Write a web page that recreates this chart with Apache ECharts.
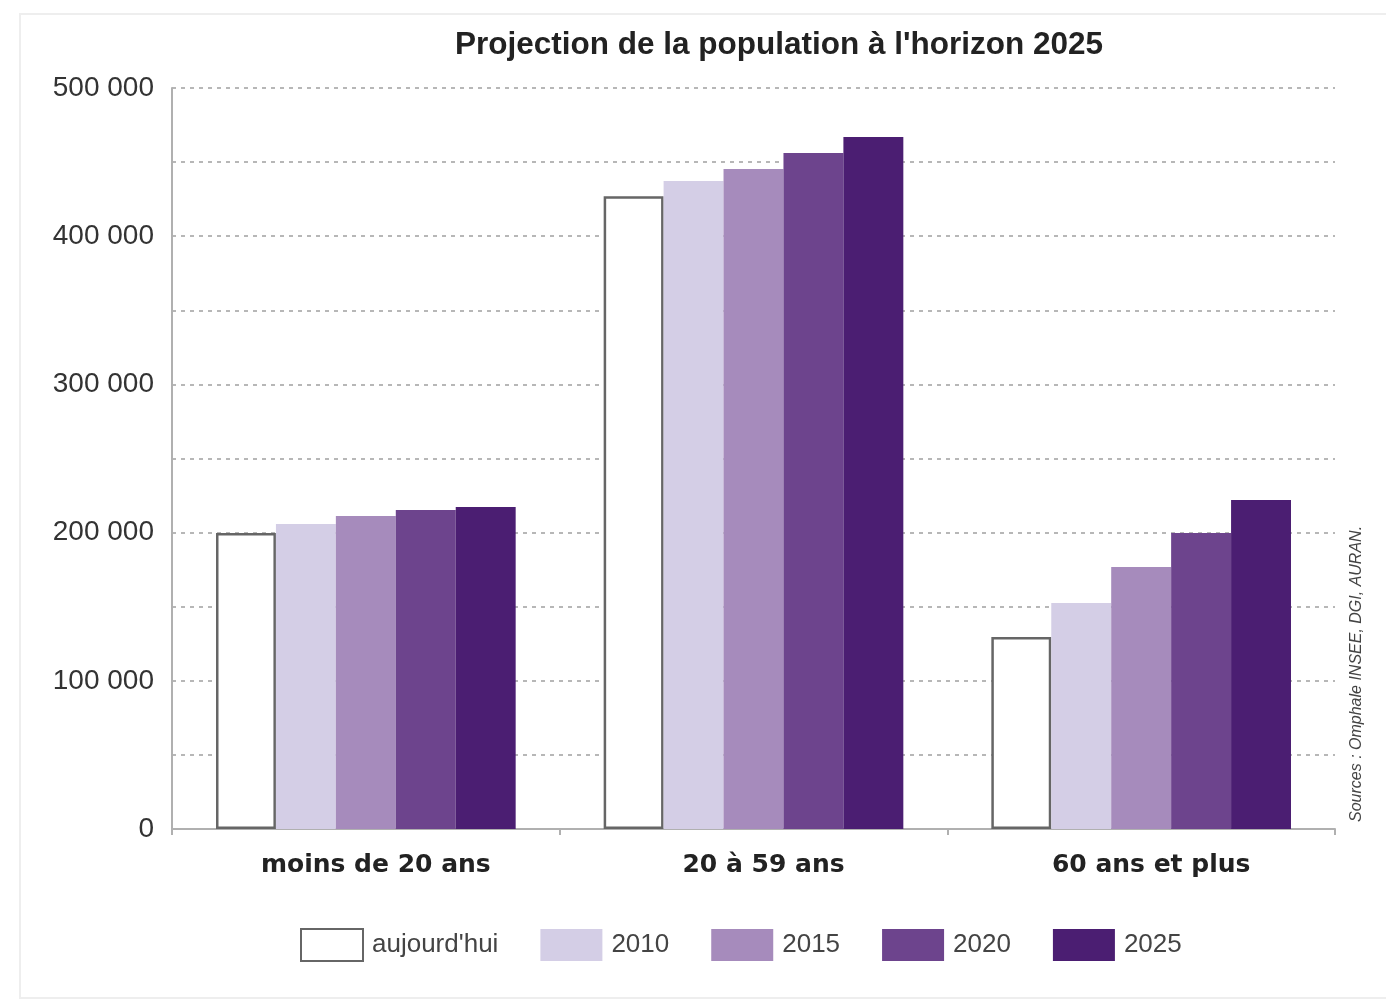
<!DOCTYPE html>
<html><head><meta charset="utf-8">
<script src="https://cdn.jsdelivr.net/npm/echarts@6/dist/echarts.min.js"></script>
<style>html,body{margin:0;padding:0;background:#fff}#c{width:1386px;height:1004px}</style>
</head><body><div id="c"></div>
<script>
const categories = ['moins de 20 ans', '20 à 59 ans', '60 ans et plus'];
const seriesNames = ["aujourd'hui", '2010', '2015', '2020', '2025'];
const valAujourdhui = [199700, 427000, 129600];
const val2010 = [205800, 437200, 152500];
const val2015 = [211200, 445300, 176800];
const val2020 = [215200, 456100, 199700];
const val2025 = [217300, 467000, 222000];
const yMin = 0, yMax = 500000, yStep = 50000;
const title = "Projection de la population à l'horizon 2025";
const sourceText = 'Sources : Omphale INSEE, DGI, AURAN.';

const colors = ['#ffffff', '#d4cee6', '#a68bbc', '#6d448d', '#4b1e72'];
const values = [valAujourdhui, val2010, val2015, val2020, val2025];
const narrow = "'Liberation Sans Narrow', 'Liberation Sans', Arial, sans-serif";

const chart = echarts.init(document.getElementById('c'), null, {renderer: 'canvas'});
const series = seriesNames.map((n, i) => ({
  name: n, type: 'bar', data: values[i],
  barGap: '0%', barCategoryGap: '22.7%',
  itemStyle: i === 0 ? {color: '#ffffff', borderColor: '#666666', borderWidth: 2.5} : {color: colors[i]},
  emphasis: {disabled: true}
}));
chart.setOption({
  animation: false,
  backgroundColor: '#ffffff',
  title: {text: title, left: 774, top: 24, textAlign: 'center',
    textStyle: {fontFamily: "'Liberation Sans', Arial, sans-serif", fontSize: 31.5, fontWeight: 'bold', color: '#222'}},
  grid: {left: 172, right: 51, top: 88, bottom: 175},
  legend: {
    top: 928, left: 300, padding: 0, itemWidth: 62, itemHeight: 32, itemGap: 42, icon: 'rect',
    textStyle: {fontFamily: narrow, fontSize: 26, color: '#444', padding: [0,0,0,4]},
    data: seriesNames.map((n, i) => ({name: n, icon: 'rect', itemStyle: i === 0 ? {color:'#fff', borderColor:'#666', borderWidth: 2} : {color: colors[i]}}))
  },
  xAxis: {
    type: 'category', data: categories,
    axisLine: {lineStyle: {color: '#b0b0b0', width: 2}},
    axisTick: {show: true, length: 6, lineStyle: {color: '#b0b0b0', width: 2}},
    axisLabel: {margin: 24, fontFamily: "'DejaVu Sans', Verdana, sans-serif", fontWeight: 'bold', fontSize: 25, color: '#222', padding: [0,0,0,20]}
  },
  yAxis: {
    type: 'value', min: yMin, max: yMax, interval: yStep,
    axisLine: {show: true, lineStyle: {color: '#b0b0b0', width: 2}},
    axisTick: {show: false},
    splitLine: {lineStyle: {color: '#a0a0a0', type: [4, 5], width: 1.5}},
    axisLabel: {margin: 18, fontFamily: narrow, fontSize: 28, color: '#333',
      formatter: v => (v % 100000 === 0) ? (v === 0 ? '0' : String(v/1000) + ' 000') : ''}
  },
  graphic: [
    {type: 'rect', shape: {x: 20, y: 14, width: 1380, height: 984}, style: {fill: 'none', stroke: '#eeeeee', lineWidth: 2}, z: -1},
    {type: 'text', x: 1357, y: 822, rotation: Math.PI/2,
      style: {text: sourceText, font: "italic 16px 'Liberation Sans', Arial, sans-serif", fill: '#444', textVerticalAlign: 'middle'}}
  ],
  series: series
});
</script></body></html>
